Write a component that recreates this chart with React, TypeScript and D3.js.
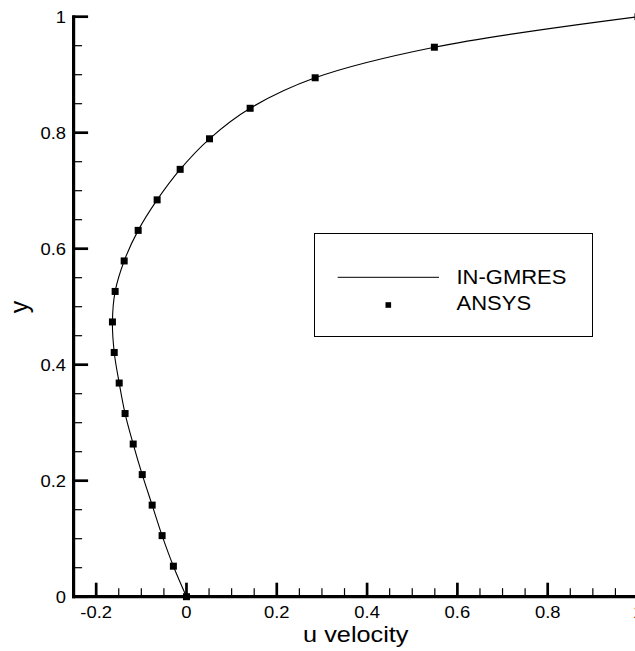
import React from 'react';
import * as d3 from 'd3';

const yPositions = [0, 0.0526, 0.1053, 0.1579, 0.2105, 0.2632, 0.3158, 0.3684, 0.4211, 0.4737, 0.5263, 0.5789, 0.6316, 0.6842, 0.7368, 0.7895, 0.8421, 0.8947, 0.9474, 1.0];
const ansysU = [0, -0.029, -0.054, -0.076, -0.098, -0.118, -0.136, -0.149, -0.16, -0.164, -0.158, -0.138, -0.107, -0.065, -0.014, 0.051, 0.141, 0.285, 0.549, 1.0];
const gmresU = [0, -0.029, -0.054, -0.076, -0.098, -0.118, -0.136, -0.149, -0.16, -0.164, -0.158, -0.138, -0.107, -0.065, -0.014, 0.051, 0.141, 0.285, 0.549, 1.0];
const xMajorTicks = [-0.2, 0, 0.2, 0.4, 0.6, 0.8, 1.0];
const xTickLabels = ['-0.2', '0', '0.2', '0.4', '0.6', '0.8', '1'];
const yMajorTicks = [0, 0.2, 0.4, 0.6, 0.8, 1.0];
const yTickLabels = ['0', '0.2', '0.4', '0.6', '0.8', '1'];
const seriesNames = ['IN-GMRES', 'ANSYS'];

const FONT = '"Liberation Sans", Arial, Helvetica, sans-serif';

export default function App() {
  const W = 635, H = 651;
  const x = d3.scaleLinear().domain([-0.25, 1.0]).range([73.6, 638.0]);
  const y = d3.scaleLinear().domain([0, 1]).range([596.7, 16.7]);

  const xMinor = d3.range(-0.2, 1.0001, 0.05).filter(v => !xMajorTicks.some(m => Math.abs(m - v) < 1e-6));
  const yMinor = d3.range(0.05, 1.0001, 0.05).filter(v => !yMajorTicks.some(m => Math.abs(m - v) < 1e-6));

  const line = d3.line<number>()
    .x((_, i) => x(gmresU[i]))
    .y((_, i) => y(yPositions[i]))
    .curve(d3.curveCatmullRom.alpha(0.5));

  const ms = 7;
  const x0 = x(-0.25);
  const yb = y(0);

  return (
    <svg width={W} height={H} style={{ position: 'absolute', left: 0, top: 0, background: '#fff' }} fontFamily={FONT}>
      <rect x={0} y={0} width={W} height={H} fill="#fff" />
      {/* curve */}
      <path d={line(yPositions) || ''} fill="none" stroke="#000" strokeWidth={1.1} />
      {ansysU.map((u, i) => (
        <rect key={i} x={x(u) - ms / 2} y={y(yPositions[i]) - ms / 2} width={ms} height={ms} fill="#000" />
      ))}
      {/* axes */}
      <line x1={x0} y1={y(1) - 1.5} x2={x0} y2={yb + 1.5} stroke="#000" strokeWidth={3.2} />
      <line x1={x0 - 1.5} y1={yb} x2={W + 10} y2={yb} stroke="#000" strokeWidth={3.2} />
      {xMajorTicks.map((v, i) => (
        <g key={'xm' + i}>
          <line x1={x(v)} x2={x(v)} y1={yb} y2={yb - 14} stroke="#000" strokeWidth={2.7} />
          <text transform={`translate(${x(v)},${617.5}) scale(1.15,1)`} textAnchor="middle" fontSize={16} fill="#000">{xTickLabels[i]}</text>
        </g>
      ))}
      {xMinor.map((v, i) => (
        <line key={'xn' + i} x1={x(v)} x2={x(v)} y1={yb} y2={yb - 8.5} stroke="#000" strokeWidth={1.2} />
      ))}
      {yMajorTicks.map((v, i) => (
        <g key={'ym' + i}>
          <line x1={x0} x2={x0 + 14.5} y1={y(v)} y2={y(v)} stroke="#000" strokeWidth={2.7} />
          <text transform={`translate(${66},${y(v) + 5.8}) scale(1.15,1)`} textAnchor="end" fontSize={16} fill="#000">{yTickLabels[i]}</text>
        </g>
      ))}
      {yMinor.map((v, i) => (
        <line key={'yn' + i} x1={x0} x2={x0 + 8.5} y1={y(v)} y2={y(v)} stroke="#000" strokeWidth={1.2} />
      ))}
      {/* axis titles */}
      <text transform={`translate(${x(0.375)},${641.5}) scale(1.15,1)`} textAnchor="middle" fontSize={22} fill="#000">u velocity</text>
      <text transform={`translate(${28},${307}) rotate(-90)`} textAnchor="middle" fontSize={25} fill="#000">y</text>
      {/* legend */}
      <rect x={314.5} y={233.5} width={278} height={103} fill="#fff" stroke="#000" strokeWidth={1} />
      <line x1={337.7} x2={439} y1={277.3} y2={277.3} stroke="#000" strokeWidth={1} />
      <text transform={`translate(${456.5},${284}) scale(1.1,1)`} fontSize={20} fill="#000">{seriesNames[0]}</text>
      <rect x={388.3 - 2.8} y={305 - 2.8} width={5.6} height={5.6} fill="#000" />
      <text transform={`translate(${456.5},${310}) scale(1.1,1)`} fontSize={20} fill="#000">{seriesNames[1]}</text>
    </svg>
  );
}
